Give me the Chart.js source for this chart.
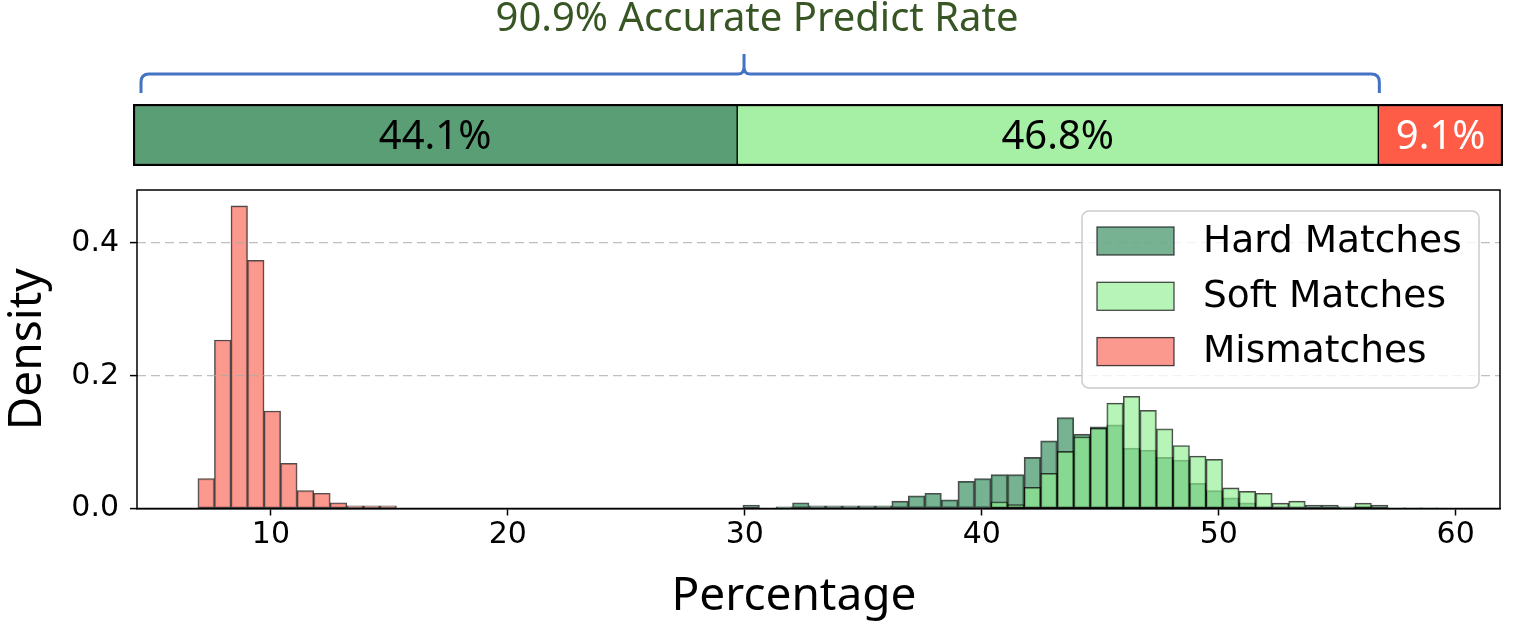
<!DOCTYPE html>
<html>
<head>
<meta charset="utf-8">
<script src="https://cdn.jsdelivr.net/npm/chart.js@4.4.1/dist/chart.umd.min.js"></script>
<style>
  html, body { margin: 0; padding: 0; background: #fff; }
  #wrap { position: relative; width: 1520px; height: 634px; overflow: hidden; }
  #shareChart { position: absolute; left: 0; top: 0; }
  #histChart { position: absolute; left: 0; top: 180px; }
</style>
</head>
<body>
<div id="wrap">
  <canvas id="shareChart" width="1520" height="180"></canvas>
  <canvas id="histChart" width="1520" height="454"></canvas>
</div>
<script>
// series
const seriesNames = ['Hard Matches', 'Soft Matches', 'Mismatches'];
const shareValues = [44.1, 46.8, 9.1];
const accurateRate = 90.9;
const titleText = '90.9% Accurate Predict Rate';

// histogram bins (percentage), density per bin
const binWidth = 0.698;
const mismatchStart = 6.92;
const matchStart = 29.92;
const mismatchDensity = [0.045, 0.254, 0.456, 0.374, 0.147, 0.068, 0.027, 0.023, 0.0085, 0.004, 0.004, 0.004];
const hardDensity = [
  0.005, null, 0.0025, 0.0087, 0.004, 0.004, 0.004, 0.004, 0.004, 0.011,
  0.019, 0.023, 0.013, 0.041, 0.045, 0.051, 0.051, 0.077, 0.102, 0.137,
  0.112, 0.123, 0.126, 0.091, 0.088, 0.077, 0.073, 0.038, 0.027, 0.016,
  0.0085, 0.002, null, null, 0.005, 0.005, 0.0025, 0.004, 0.005, null,
  null, null
];
const softDensity = [
  null, null, null, null, null, null, null, null, null, null,
  null, null, null, null, null, 0.010, 0.006, 0.032, 0.053, 0.086,
  0.108, 0.121, 0.159, 0.169, 0.148, 0.120, 0.095, 0.079, 0.074, 0.031,
  0.026, 0.023, 0.008, 0.011, null, null, null, 0.008, null, 0.001,
  0.001, 0.001
];

const xTicks = [10, 20, 30, 40, 50, 60];
const yTicks = [0, 0.2, 0.4];

const shareColors = ['rgb(90,158,118)', 'rgb(166,240,166)', 'rgb(255,92,72)'];
const shareText = ['#000', '#000', '#fff'];
const histColors = ['rgba(46,139,87,0.65)', 'rgba(144,238,144,0.65)', 'rgba(250,128,114,0.8)'];

// top: share bar with brace and title
const shareLabels = {
  id: 'shareLabels',
  afterDatasetsDraw(chart) {
    const ctx = chart.ctx;
    ctx.save();
    ctx.font = "40px 'Noto Sans'";
    ctx.textAlign = 'center';
    ctx.textBaseline = 'middle';
    chart.data.datasets.forEach((ds, i) => {
      const p = chart.getDatasetMeta(i).data[0].getProps(['x', 'y', 'base'], true);
      ctx.fillStyle = shareText[i];
      ctx.fillText(shareValues[i].toFixed(1) + '%', (p.x + p.base) / 2, p.y + 3);
    });
    ctx.restore();
  }
};

const braceTitle = {
  id: 'braceTitle',
  afterDraw(chart) {
    const ctx = chart.ctx;
    const xs = chart.scales.x;
    const x0 = xs.getPixelForValue(0) + 8;
    const x1 = xs.getPixelForValue(accurateRate) + 1;
    const xm = xs.getPixelForValue(44.6);
    const yLine = 74, yEnd = 93, yTip = 54, r = 8;
    ctx.save();
    ctx.strokeStyle = '#4472c4';
    ctx.lineWidth = 3;
    ctx.lineJoin = 'round';
    ctx.beginPath();
    ctx.moveTo(x0, yEnd);
    ctx.lineTo(x0, yLine + r);
    ctx.quadraticCurveTo(x0, yLine, x0 + r, yLine);
    ctx.lineTo(xm - 6, yLine);
    ctx.quadraticCurveTo(xm, yLine, xm, yLine - 7);
    ctx.lineTo(xm, yTip);
    ctx.moveTo(xm, yLine - 7);
    ctx.quadraticCurveTo(xm, yLine, xm + 6, yLine);
    ctx.lineTo(x1 - r, yLine);
    ctx.quadraticCurveTo(x1, yLine, x1, yLine + r);
    ctx.lineTo(x1, yEnd);
    ctx.stroke();

    ctx.fillStyle = '#375623';
    ctx.font = "40px 'Noto Sans'";
    ctx.textAlign = 'center';
    ctx.textBaseline = 'alphabetic';
    ctx.fillText(titleText, 757, 31);
    ctx.restore();
  }
};

new Chart(document.getElementById('shareChart'), {
  type: 'bar',
  data: {
    labels: ['share'],
    datasets: seriesNames.map((name, i) => ({
      label: name,
      data: [shareValues[i]],
      backgroundColor: shareColors[i],
      borderColor: '#000',
      borderWidth: [
        { left: 2.5, right: 1, top: 2.5, bottom: 2.5 },
        { left: 1, right: 1, top: 2.5, bottom: 2.5 },
        { left: 1, right: 2.5, top: 2.5, bottom: 2.5 }
      ][i],
      borderSkipped: false,
      barPercentage: 1,
      categoryPercentage: 1
    }))
  },
  options: {
    responsive: false,
    animation: false,
    indexAxis: 'y',
    layout: { padding: { left: 133, right: 17, top: 104, bottom: 14 } },
    scales: {
      x: { stacked: true, min: 0, max: 100, display: false },
      y: { stacked: true, display: false }
    },
    plugins: { legend: { display: false }, tooltip: { enabled: false } }
  },
  plugins: [shareLabels, braceTitle]
});

// bottom: density histogram
function toPoints(start, values) {
  return values.map((v, i) => ({ x: start + binWidth * (i + 0.5), y: v }));
}

const boxLegend = {
  id: 'boxLegend',
  afterDraw(chart) {
    const { ctx, chartArea } = chart;
    const bw = 397, bh = 177;
    const bx = chartArea.right - 21 - bw;
    const by = chartArea.top + 21;
    ctx.save();
    ctx.fillStyle = 'rgba(255,255,255,0.8)';
    ctx.strokeStyle = '#cccccc';
    ctx.lineWidth = 1.5;
    ctx.beginPath();
    ctx.roundRect(bx, by, bw, bh, 7);
    ctx.fill();
    ctx.stroke();
    ctx.font = "37.5px 'DejaVu Sans'";
    ctx.textBaseline = 'middle';
    ctx.textAlign = 'left';
    seriesNames.forEach((name, i) => {
      const cy = by + 30 + i * 55.3;
      ctx.fillStyle = histColors[i];
      ctx.fillRect(bx + 15, cy - 14, 77, 28);
      ctx.strokeStyle = 'rgba(0,0,0,0.7)';
      ctx.lineWidth = 1.3;
      ctx.strokeRect(bx + 15, cy - 14, 77, 28);
      ctx.fillStyle = '#000';
      ctx.fillText(name, bx + 121, cy + 1);
    });
    ctx.restore();
  }
};

const frameAndTitle = {
  id: 'frameAndTitle',
  afterDraw(chart) {
    const { ctx, chartArea } = chart;
    ctx.save();
    ctx.strokeStyle = '#000';
    ctx.lineWidth = 1.5;
    ctx.strokeRect(chartArea.left, chartArea.top, chartArea.right - chartArea.left, chartArea.bottom - chartArea.top);
    ctx.fillStyle = '#000';
    ctx.font = "46px 'Noto Sans'";
    ctx.textAlign = 'center';
    ctx.textBaseline = 'alphabetic';
    ctx.fillText('Percentage', 794, 430);
    ctx.restore();
  }
};

const barCommon = {
  borderColor: 'rgba(0,0,0,0.7)',
  borderWidth: 1.3,
  borderSkipped: false,
  grouped: false,
  barPercentage: 1,
  categoryPercentage: 1
};

function noEdgePadding(s) {
  s.paddingTop = 0;
  s.paddingBottom = 0;
  s.paddingLeft = 0;
  s.paddingRight = 0;
}

new Chart(document.getElementById('histChart'), {
  type: 'bar',
  data: {
    datasets: [
      Object.assign({ label: seriesNames[0], data: toPoints(matchStart, hardDensity), backgroundColor: histColors[0], order: 2 }, barCommon),
      Object.assign({ label: seriesNames[1], data: toPoints(matchStart, softDensity), backgroundColor: histColors[1], order: 1 }, barCommon),
      Object.assign({ label: seriesNames[2], data: toPoints(mismatchStart, mismatchDensity), backgroundColor: histColors[2], order: 0 }, barCommon)
    ]
  },
  options: {
    responsive: false,
    animation: false,
    layout: { padding: { left: 0, right: 20, top: 10, bottom: 0 } },
    scales: {
      x: {
        type: 'linear',
        offset: false,
        min: 4.35,
        max: 61.87,
        afterBuildTicks: s => { s.ticks = xTicks.map(v => ({ value: v })); },
        afterFit: s => { s.height = 125.5; noEdgePadding(s); },
        grid: { offset: false, drawOnChartArea: false, tickLength: 7, tickColor: '#000', tickWidth: 1.5 },
        border: { color: '#000', width: 1.5 },
        ticks: { font: { family: "'DejaVu Sans'", size: 30 }, color: '#000', padding: 2, maxRotation: 0, autoSkip: false }
      },
      y: {
        min: 0,
        max: 0.48,
        afterBuildTicks: s => { s.ticks = yTicks.map(v => ({ value: v })); },
        afterFit: s => { s.width = 137; noEdgePadding(s); },
        grid: {
          z: 1,
          color: c => (c.tick && c.tick.value === 0) ? 'rgba(0,0,0,0)' : 'rgba(170,170,170,0.75)',
          lineWidth: 1.2,
          tickColor: '#000',
          tickLength: 7,
          tickWidth: 1.5,
          tickBorderDash: []
        },
        // axis line itself comes from the frame plugin; dash here styles the grid lines
        border: { display: false, dash: [9, 5] },
        ticks: { font: { family: "'DejaVu Sans'", size: 30 }, color: '#000', padding: 11, callback: v => v.toFixed(1) },
        title: { display: true, text: 'Density', font: { family: "'Noto Sans'", size: 46 }, color: '#000', padding: { top: 0, bottom: 0 } }
      }
    },
    plugins: { legend: { display: false }, tooltip: { enabled: false } }
  },
  plugins: [boxLegend, frameAndTitle]
});
</script>
</body>
</html>
